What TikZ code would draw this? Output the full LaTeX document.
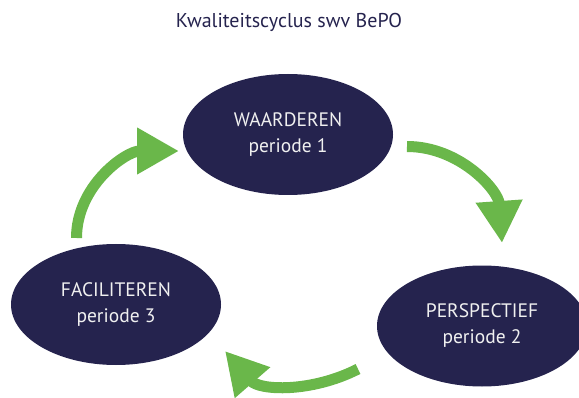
\documentclass[tikz,border=0pt]{standalone}
\usepackage{fontspec}
\setmainfont{PT Sans}
\usetikzlibrary{arrows.meta,shapes.geometric}

\definecolor{bepoblauw}{RGB}{37,35,78}
\definecolor{bepogroen}{RGB}{106,183,74}

\begin{document}
\begin{tikzpicture}[x=1pt,y=1pt,
  fase/.style={ellipse, fill=bepoblauw, minimum width=210pt, minimum height=121pt,
    inner sep=0pt, text=white!94!black, align=center, font=\fontsize{19.5}{26}\selectfont},
  pijl/.style={draw=bepogroen, line width=11pt, -{Triangle[length=42pt,width=44pt]}}]

\def\breedte{579}
\def\hoogte{397}
\useasboundingbox (0,0) rectangle (\breedte,\hoogte);

% TITEL
\node (titel) at (289,375) [text=bepoblauw, font=\fontsize{20}{22}\selectfont] {Kwaliteitscyclus swv BePO};

% FASES
\node (waarderen)   at (288,262.5) [fase] {WAARDEREN\\periode 1};
\node (perspectief) at (482,71)    [fase] {PERSPECTIEF\\periode 2};
\node (faciliteren) at (116,92.5)  [fase] {FACILITEREN\\periode 3};

% PIJLEN
\coordinate (p1a) at (407,250.5);
\coordinate (p1b) at (502,154);
\coordinate (p2a) at (358,28);
\coordinate (p2b) at (225,46);
\coordinate (p3a) at (76.5,159);
\coordinate (p3b) at (179,246);

\draw [pijl] (p1a) to[out=0,in=94] (p1b);
\draw [pijl] (p2a) to[out=207,in=-49] (p2b);
\draw [pijl] (p3a) to[out=90,in=180] (p3b);

\end{tikzpicture}
\end{document}
